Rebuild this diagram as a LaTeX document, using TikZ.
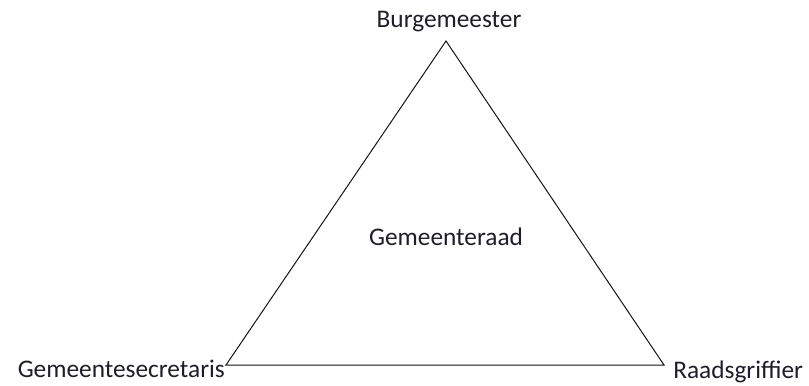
\documentclass[tikz,border=0pt]{standalone}
\usepackage{fontspec}
\setmainfont{Carlito}
\usetikzlibrary{positioning}
\definecolor{lijncolor}{RGB}{20,20,20}
\definecolor{tekstcolor}{RGB}{30,30,40}
\tikzset{
  lbl/.style  = {font=\fontsize{19}{22}\selectfont, inner sep=0pt, text=tekstcolor},
  rand/.style = {draw=lijncolor, line width=0.75pt, line join=miter},
}

\begin{document}
\begin{tikzpicture}[x=0.75pt, y=-0.75pt]
  \useasboundingbox (0,0) rectangle (809,385);
  % hoekpunten
  \coordinate (top)    at (446,41);
  \coordinate (links)  at (226,365);
  \coordinate (rechts) at (664,365);
  \draw[rand] (top) -- (links) -- (rechts) -- cycle;
  % teksten
  \node[lbl, anchor=base] (burg) at (449,28) {Burgemeester};
  \node[lbl, anchor=base] (raad) at (446,245) {Gemeenteraad};
  \node[lbl, anchor=base east] (secr) at (225,377) {Gemeentesecretaris};
  \node[lbl, anchor=base west] (griff) at (673,378) {Raadsgriffier};
\end{tikzpicture}
\end{document}
